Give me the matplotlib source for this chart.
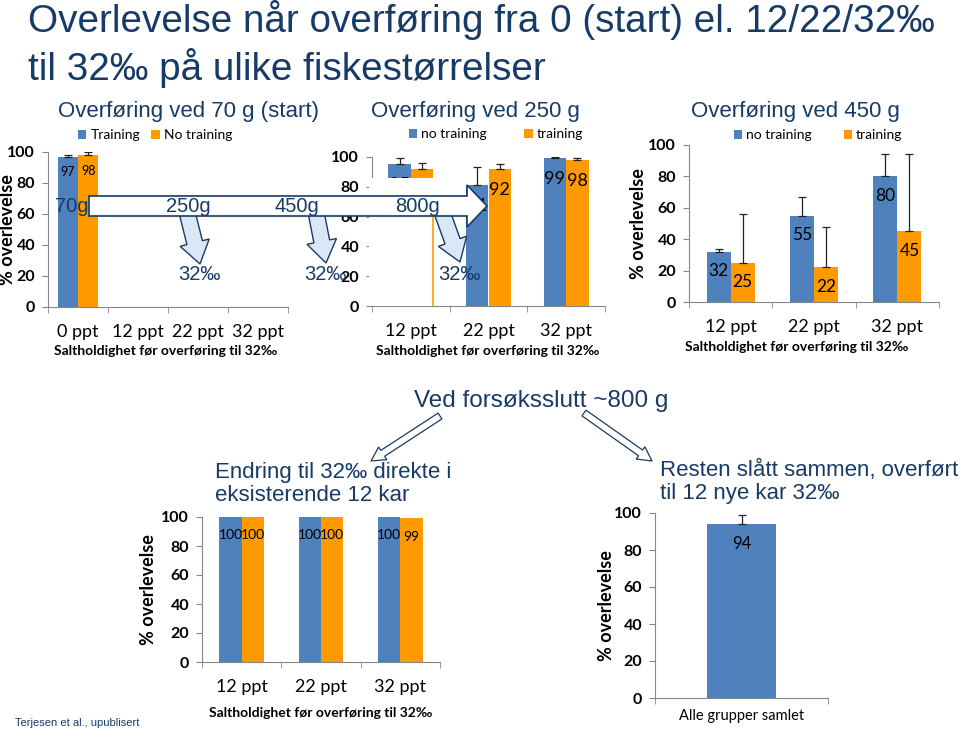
import numpy as np
import matplotlib.pyplot as plt
from matplotlib.patches import Polygon, Rectangle

plt.rcParams['font.family'] = ['Lato', 'DejaVu Sans']

W, H = 960, 733
BLUE = '#4F81BD'
ORANGE = '#FF9900'
NAVY = '#173B66'
GREY = '#868686'
ARIAL = ['Liberation Sans', 'DejaVu Sans']

# --- data ---
p1_cats = ['0 ppt', '12 ppt', '22 ppt', '32 ppt']
p1_training = [97, np.nan, np.nan, np.nan]
p1_training_err = [1, 0, 0, 0]
p1_no_training = [98, np.nan, np.nan, np.nan]
p1_no_training_err = [2, 0, 0, 0]

p2_cats = ['12 ppt', '22 ppt', '32 ppt']
p2_no_training = [95, 81, 99]
p2_no_training_err = [4, 12, 1]
p2_training = [92, 92, 98]
p2_training_err = [4, 3, 1]

p3_cats = ['12 ppt', '22 ppt', '32 ppt']
p3_no_training = [32, 55, 80]
p3_no_training_err = [2, 12, 14.5]
p3_training = [25, 22, 45]
p3_training_err = [31, 26, 49.5]

p4_cats = ['12 ppt', '22 ppt', '32 ppt']
p4_blue = [100, 100, 100]
p4_orange = [100, 100, 99]

p5_cats = ['Alle grupper samlet']
p5_vals = [94]
p5_err = [5]

xlab = 'Saltholdighet før overføring til 32‰'
ylab = '% overlevelse'

fig = plt.figure(figsize=(W / 100, H / 100), dpi=100)


def make_axes(x0, y0, x1, y1):
    ax = fig.add_axes([x0 / W, 1 - y1 / H, (x1 - x0) / W, (y1 - y0) / H])
    ax._px = (x0, y0, x1, y1)
    return ax


def style(ax, cats, tickfs=13, tickpad=12):
    n = len(cats)
    ax.set_xlim(-0.5, n - 0.5)
    ax.set_ylim(0, 100)
    ax.set_yticks(range(0, 101, 20))
    ax.set_xticks(range(n))
    ax.set_xticklabels(cats, fontsize=tickfs)
    ax.set_xticks(np.arange(-0.5, n, 1), minor=True)
    ax.tick_params(axis='x', which='major', length=0, pad=tickpad)
    ax.tick_params(axis='x', which='minor', length=4.3, color=GREY, direction='out')
    ax.tick_params(axis='y', length=4.3, color=GREY, labelsize=11.5, pad=5)
    for lab in ax.get_yticklabels():
        lab.set_fontweight('bold')
    for s in ['top', 'right']:
        ax.spines[s].set_visible(False)
    for s in ['left', 'bottom']:
        ax.spines[s].set_color(GREY)
    ax.patch.set_alpha(0)


def set_ylab(ax, right_px):
    x0, y0, x1, y1 = ax._px
    ax.set_ylabel(ylab, fontsize=13, fontweight='bold')
    ax.yaxis.set_label_coords((right_px - x0) / (x1 - x0), 0.5)


def set_xlab(ax, cx, top_px, fs=10):
    x0, y0, x1, y1 = ax._px
    ax.set_xlabel(xlab, fontsize=fs, fontweight='bold')
    ax.xaxis.set_label_coords((cx - x0) / (x1 - x0), (y1 - top_px) / (y1 - y0))


def bars(ax, vals, err, offset, width, color, fs, drop):
    x = np.arange(len(vals)) + offset
    yerr = None
    if err is not None:
        yerr = [np.zeros(len(vals)), err]
    b = ax.bar(x, vals, width, color=color, yerr=yerr,
               error_kw=dict(ecolor='#222222', elinewidth=0.9, capsize=3, capthick=0.9))
    for xi, v in zip(x, vals):
        if not np.isnan(v):
            ax.text(xi, v - drop, f'{v:g}', ha='center', va='center', fontsize=fs)
    return b


def legend(ax, handles, labels, cx, cy, cs):
    ax.legend(handles, labels, loc='center', bbox_to_anchor=(cx / W, 1 - cy / H),
              bbox_transform=fig.transFigure, ncol=2, frameon=False, fontsize=10,
              handlelength=0.6, handleheight=0.6, handletextpad=0.3,
              columnspacing=cs, borderpad=0)


# panel 1: 70 g
ax1 = make_axes(48, 152, 288, 307)
style(ax1, p1_cats)
b1 = bars(ax1, p1_training, p1_training_err, -0.17, 0.34, BLUE, 9, 10)
b2 = bars(ax1, p1_no_training, p1_no_training_err, 0.17, 0.34, ORANGE, 9, 10)
legend(ax1, [b1, b2], ['Training', 'No training'], 155, 135, 0.8)
set_ylab(ax1, 16)
set_xlab(ax1, 166, 345)

# panel 2: 250 g
ax2 = make_axes(372, 157, 605, 306)
style(ax2, p2_cats)
b1 = bars(ax2, p2_no_training, p2_no_training_err, -0.145, 0.29, BLUE, 13, 14)
b2 = bars(ax2, p2_training, p2_training_err, 0.145, 0.29, ORANGE, 13, 14)
legend(ax2, [b1, b2], ['no training', 'training'], 496, 134, 2.7)
set_xlab(ax2, 488, 345)

# panel 3: 450 g
ax3 = make_axes(689, 145, 939, 302)
style(ax3, p3_cats)
b1 = bars(ax3, p3_no_training, p3_no_training_err, -0.145, 0.29, BLUE, 12.5, 12.3)
b2 = bars(ax3, p3_training, p3_training_err, 0.145, 0.29, ORANGE, 12.5, 12.3)
legend(ax3, [b1, b2], ['no training', 'training'], 818, 135, 2.3)
set_ylab(ax3, 647)
set_xlab(ax3, 797, 341)

# panel 4: bottom left
ax4 = make_axes(202, 517, 440, 662)
style(ax4, p4_cats)
bars(ax4, p4_blue, None, -0.14, 0.28, BLUE, 10, 12.6)
bars(ax4, p4_orange, None, 0.14, 0.28, ORANGE, 10, 12.6)
set_ylab(ax4, 157)
set_xlab(ax4, 321, 707)

# panel 5: bottom right
ax5 = make_axes(655, 513, 828, 698)
style(ax5, p5_cats, tickfs=10.5, tickpad=8)
bars(ax5, p5_vals, p5_err, 0, 0.4, BLUE, 12, 10.6)
set_ylab(ax5, 615)

# overlay in pixel coordinates for the slide decorations
ov = fig.add_axes([0, 0, 1, 1], zorder=10)
ov.set_xlim(0, W)
ov.set_ylim(H, 0)
ov.axis('off')
ov.patch.set_alpha(0)


def arrow_poly(x0, y0, x1, y1, shaft, head, head_len, fc, lw, z):
    p0 = np.array([x0, y0], float)
    p1 = np.array([x1, y1], float)
    u = (p1 - p0) / np.hypot(*(p1 - p0))
    n = np.array([-u[1], u[0]])
    b = p1 - u * head_len
    pts = [p0 + n * shaft / 2, b + n * shaft / 2, b + n * head / 2, p1,
           b - n * head / 2, b - n * shaft / 2, p0 - n * shaft / 2]
    ov.add_patch(Polygon(pts, closed=True, fc=fc, ec=NAVY, lw=lw, zorder=z))


# white patch hiding part of the 250 g chart
ov.add_patch(Rectangle((369, 178), 64, 128, fc='white', ec='none', zorder=1))
ov.plot([433, 433], [217, 305], color=ORANGE, lw=1.2, zorder=1.5)

# small down arrows to 32‰
for (sx, sy, tx, ty) in [(187, 212, 200, 264), (316, 212, 326, 263), (442, 212, 460, 262)]:
    arrow_poly(sx, sy, tx, ty, 16, 30, 22, '#DAE8F5', 1.0, 2)
    ov.text(tx - 1, 274, '32‰', family=ARIAL, fontsize=14.5, color=NAVY,
            ha='center', va='center', zorder=4)

# big arrow along fish size
ov.add_patch(Polygon([(89, 196), (467, 196), (467, 185), (487, 206), (467, 227),
                      (467, 216), (89, 216)], closed=True, fc='white', ec=NAVY,
                     lw=1.2, zorder=3))
for txt, x in [('70g', 72), ('250g', 188), ('450g', 297), ('800g', 418)]:
    ov.text(x, 207, txt, family=ARIAL, fontsize=14.5, color=NAVY,
            ha='center', va='center', zorder=4)

# panel titles
for txt, x in [('Overføring ved 70 g (start)', 188), ('Overføring ved 250 g', 475),
               ('Overføring ved 450 g', 795)]:
    ov.text(x, 112, txt, family=ARIAL, fontsize=16, color=NAVY, ha='center', va='center')

# slide title
ov.text(28, 20, 'Overlevelse når overføring fra 0 (start) el. 12/22/32‰',
        family=ARIAL, fontsize=27.8, color=NAVY, ha='left', va='center')
ov.text(28, 68, 'til 32‰ på ulike fiskestørrelser',
        family=ARIAL, fontsize=27.8, color=NAVY, ha='left', va='center')

# bottom section
ov.text(541, 401, 'Ved forsøksslutt ~800 g', family=ARIAL, fontsize=17.5,
        color=NAVY, ha='center', va='center')
arrow_poly(440, 416, 371, 461, 7, 15, 14, 'white', 0.9, 2)
arrow_poly(584, 413, 652, 461, 7, 15, 14, 'white', 0.9, 2)
ov.text(215, 484, 'Endring til 32‰ direkte i\neksisterende 12 kar', family=ARIAL,
        fontsize=16, color=NAVY, ha='left', va='center', linespacing=1.15)
ov.text(660, 482, 'Resten slått sammen, overført\ntil 12 nye kar 32‰', family=ARIAL,
        fontsize=16, color=NAVY, ha='left', va='center', linespacing=1.15)
ov.text(15, 723, 'Terjesen et al., upublisert', family=ARIAL, fontsize=8,
        color=NAVY, ha='left', va='center')

fig.savefig('out.png', dpi=100)
